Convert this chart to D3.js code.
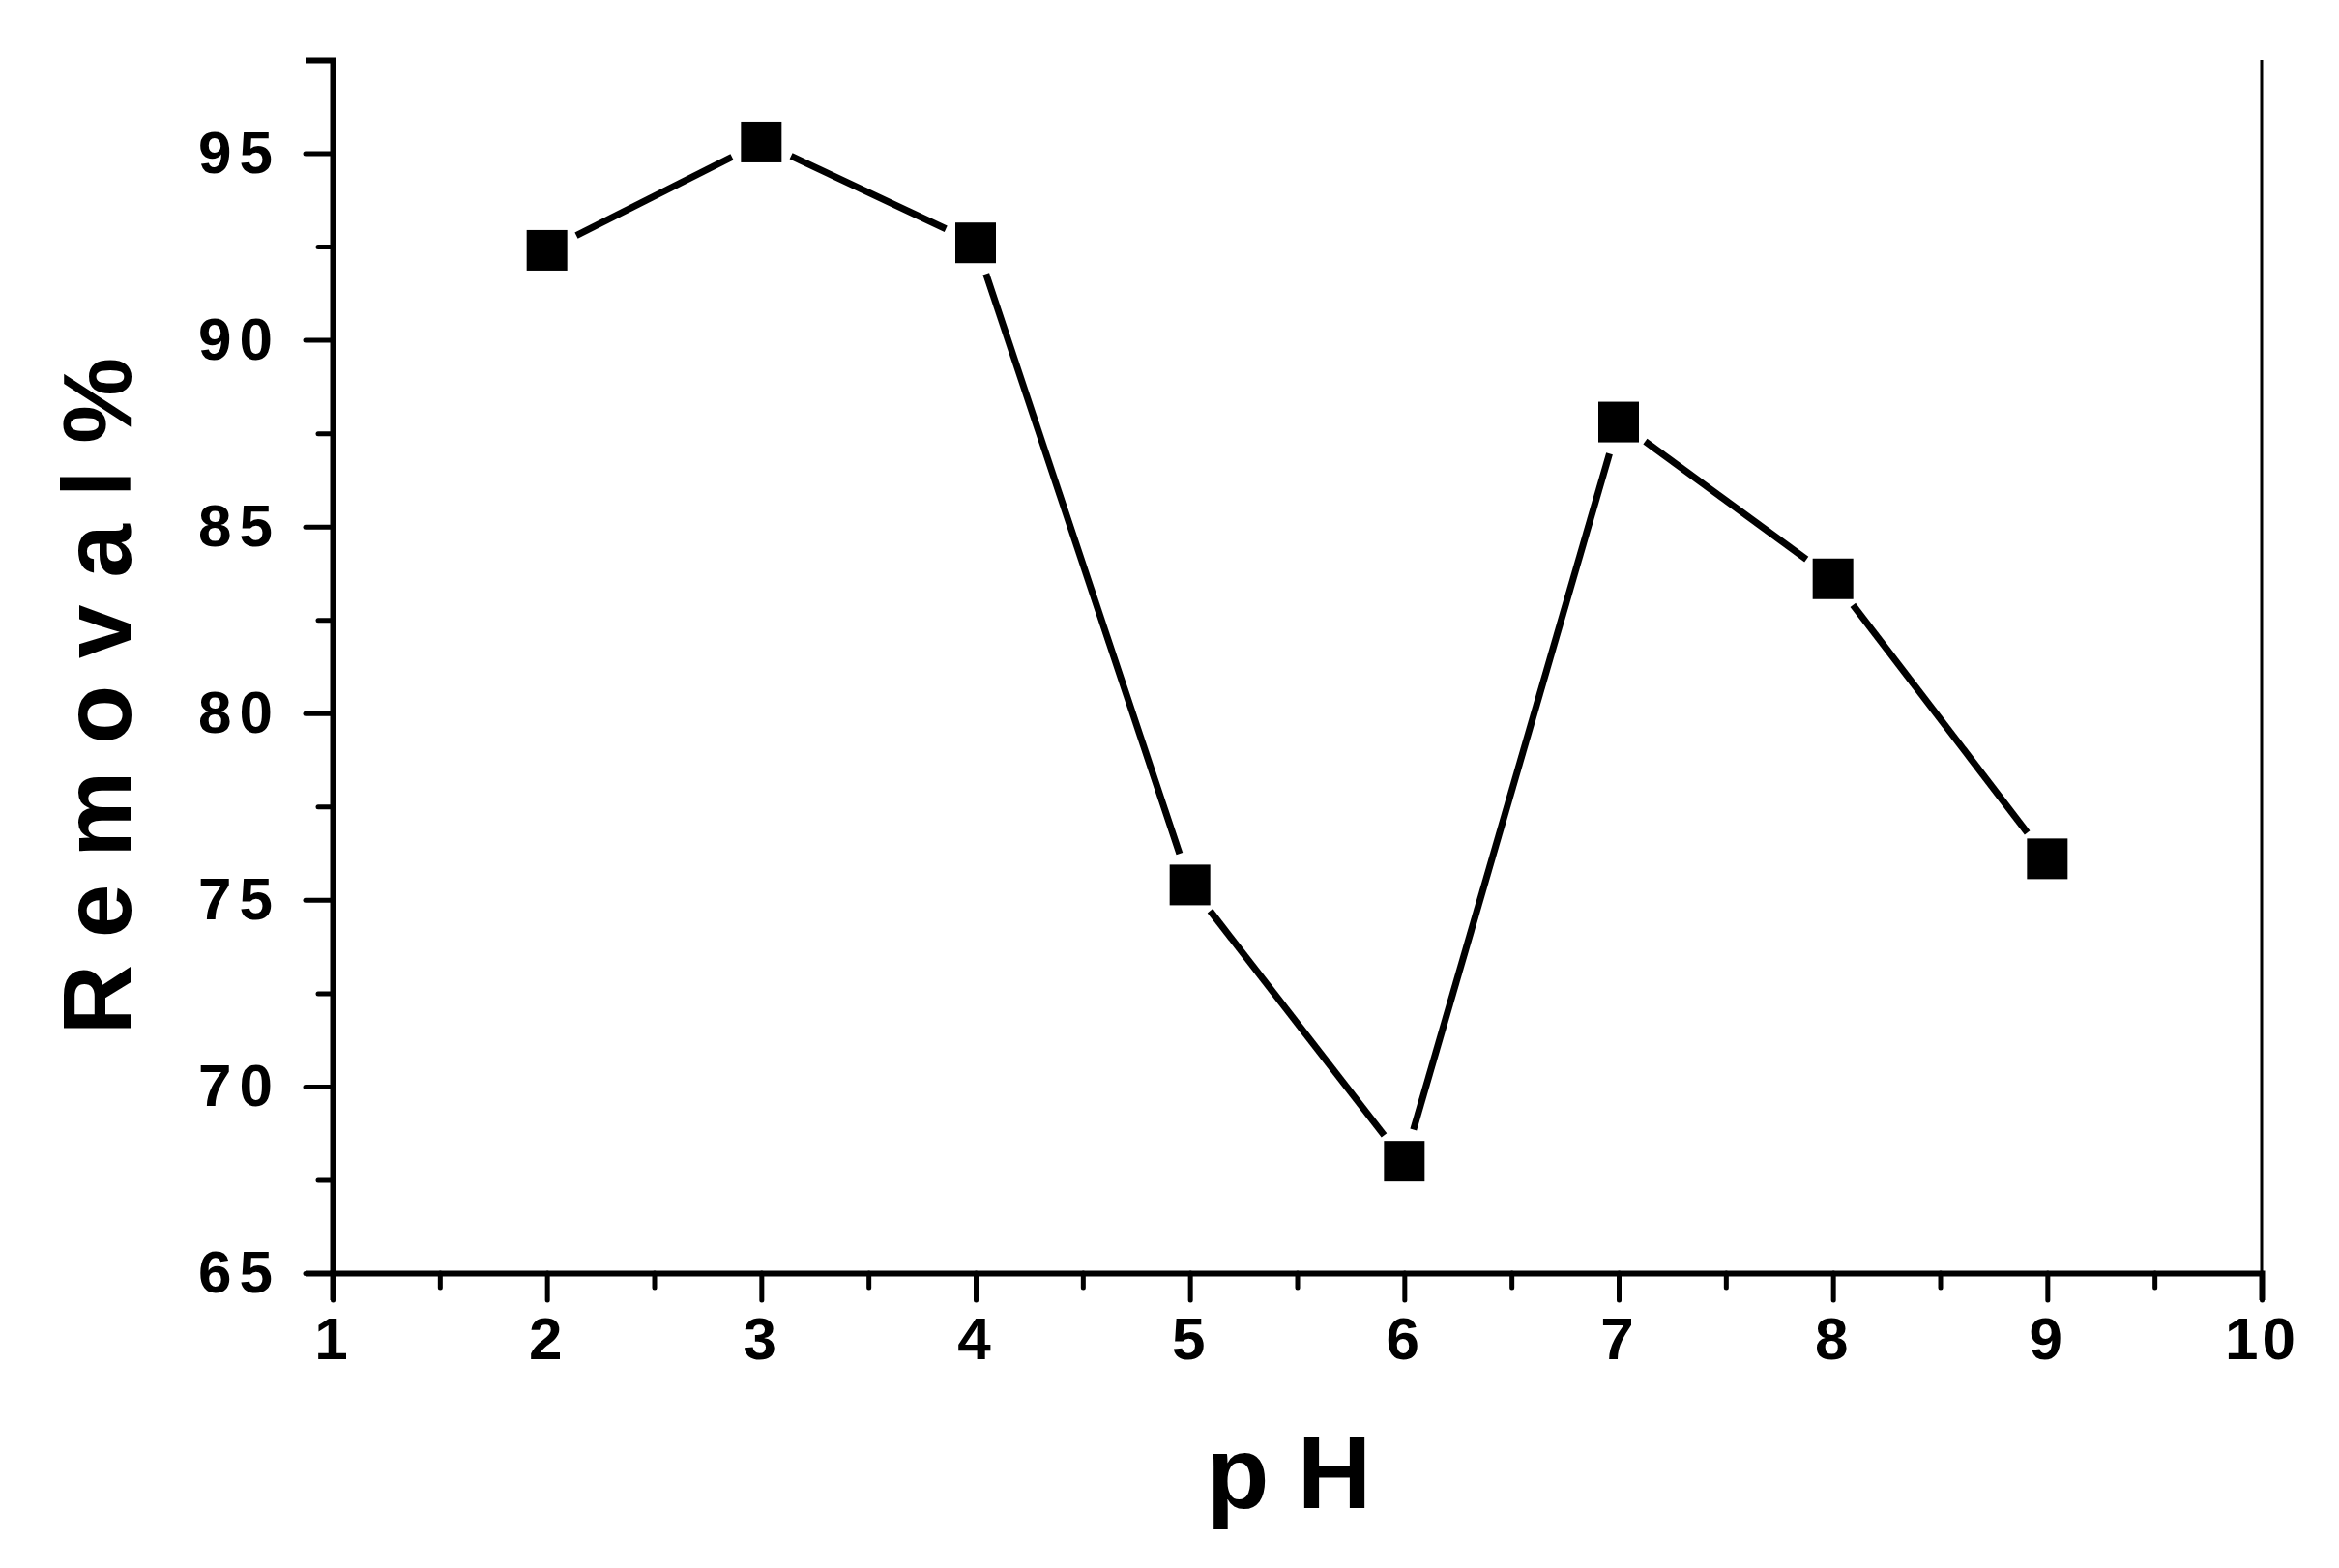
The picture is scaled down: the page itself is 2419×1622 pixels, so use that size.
<!DOCTYPE html>
<html>
<head>
<meta charset="utf-8">
<script src="https://cdn.jsdelivr.net/npm/d3@7"></script>
<style>
  body { margin: 0; background: #fff; }
  text { font-family: "Liberation Sans Narrow", "Liberation Sans", Arial, sans-serif; font-weight: bold; fill: #000; }
</style>
</head>
<body>
<div id="chart"></div>
<script>
// data
var phValues = [2, 3, 4, 5, 6, 7, 8, 9];
var removalValues = [92.4, 95.3, 92.6, 75.4, 68.0, 87.8, 83.6, 76.1];
var xTicks = [1, 2, 3, 4, 5, 6, 7, 8, 9, 10];
var yTicks = [65, 70, 75, 80, 85, 90, 95];

var svgWidth = 2419, svgHeight = 1622;
var margin = { left: 344, right: 80, top: 62, bottom: 305 };
var width = svgWidth - margin.left - margin.right;
var height = svgHeight - margin.top - margin.bottom;

var svg = d3.select("#chart").append("svg")
  .attr("width", svgWidth)
  .attr("height", svgHeight);

var g = svg.append("g")
  .attr("transform", `translate(${margin.left}, ${margin.top})`);

var x = d3.scaleLinear().domain([1, 10]).range([0, width]);
var y = d3.scaleLinear().domain([65, 97.5]).range([height, 0]);

// minor ticks
var xMinor = d3.range(1.5, 10, 1);
var yMinor = d3.range(67.5, 97.5, 5);

var xAxis = g.append("g")
  .attr("transform", `translate(0, ${height})`)
  .call(d3.axisBottom(x).tickValues(xTicks).tickSize(28).tickPadding(14).tickFormat(d3.format("d")));
g.append("g")
  .attr("transform", `translate(0, ${height})`)
  .call(d3.axisBottom(x).tickValues(xMinor).tickSize(15).tickFormat(""))
  .select(".domain").remove();

var yAxis = g.append("g")
  .call(d3.axisLeft(y).tickValues(yTicks).tickSize(28).tickPadding(26).tickFormat(d3.format("d")));
g.append("g")
  .call(d3.axisLeft(y).tickValues(yMinor).tickSize(15).tickFormat(""))
  .select(".domain").remove();

g.selectAll(".tick line").attr("stroke", "#000").attr("stroke-width", 5).attr("stroke-linecap", "round");
g.selectAll(".domain").attr("stroke", "#000").attr("stroke-width", 6);
xAxis.selectAll("text").attr("font-size", 62).attr("letter-spacing", 4).attr("dy", "0.75em");
yAxis.selectAll("text").attr("font-size", 62).attr("letter-spacing", 8);

// right border
g.append("line")
  .attr("x1", width).attr("x2", width)
  .attr("y1", 0).attr("y2", height)
  .attr("stroke", "#000").attr("stroke-width", 3);

// connecting segments with gaps near markers
var pts = phValues.map((p, i) => [x(p), y(removalValues[i])]);
var gap = 34;
for (var i = 0; i < pts.length - 1; i++) {
  var a = pts[i], b = pts[i + 1];
  var dx = b[0] - a[0], dy = b[1] - a[1];
  var len = Math.sqrt(dx * dx + dy * dy);
  var ux = dx / len, uy = dy / len;
  g.append("line")
    .attr("x1", a[0] + ux * gap).attr("y1", a[1] + uy * gap)
    .attr("x2", b[0] - ux * gap).attr("y2", b[1] - uy * gap)
    .attr("stroke", "#000").attr("stroke-width", 7);
}

var ms = 42;
g.selectAll("rect.marker")
  .data(phValues)
  .enter()
  .append("rect")
  .attr("class", "marker")
  .attr("x", (d) => x(d) - ms / 2)
  .attr("y", (d, i) => y(removalValues[i]) - ms / 2)
  .attr("width", ms)
  .attr("height", ms)
  .attr("fill", "#000");

// axis titles
svg.append("text")
  .attr("x", 1333)
  .attr("y", 1560)
  .attr("text-anchor", "middle")
  .attr("font-size", 106)
  .text("p H");

svg.append("text")
  .attr("transform", `translate(135, 720) rotate(-90)`)
  .attr("text-anchor", "middle")
  .attr("font-size", 100)
  .text("R e m o v a l %");
</script>
</body>
</html>
